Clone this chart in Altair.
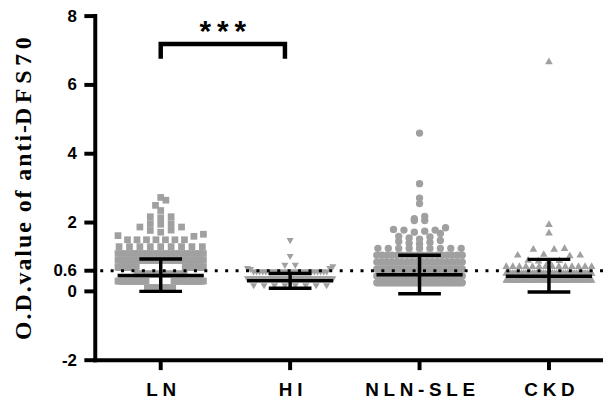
import json
import numpy as np
import pandas as pd
import altair as alt

# ---------------- data ----------------
groups = ["LN", "HI", "NLN-SLE", "CKD"]
SP = "\u2005"
tick_labels = [SP.join("LN"), SP.join("HI"), SP.join("NLN-SLE"), SP.join("CKD")]
shapes = ["square", "triangle-down", "circle", "triangle-up"]
sizes = [46, 60, 55, 60]

# isolated points (upper tails)
ln_tail = [2.73, 2.65, 2.50, 2.35, 2.17, 2.14, 2.17, 1.97, 1.97, 1.87, 1.87, 1.77, 1.72, 1.66, 1.62, 1.60,
           1.78, 1.95]
hi_tail = [1.46, 1.00, 0.74, 0.74, 0.70, 0.65, 0.65, 0.62]
nln_tail = [4.60, 3.13, 2.71, 2.55, 2.11, 2.06, 2.06, 2.18, 1.85, 1.78, 1.75, 1.68, 1.72, 1.78,
            1.80, 1.55, 1.48, 1.45, 1.58, 1.60, 1.40, 1.42, 1.52, 1.38]
ckd_tail = [6.70, 1.97, 1.72, 1.25, 1.27, 1.25, 1.08, 1.10, 1.08, 1.06, 0.91, 0.90, 0.93, 0.92]

# dense parts: row values and how many points sit in each row
ln_rows = [1.50, 1.30, 1.10, 0.90, 0.70, 0.50, 0.30, 0.10]
ln_counts = [7, 9, 22, 30, 40, 50, 45, 20]
hi_rows = [0.55, 0.35, 0.15]
hi_counts = [25, 30, 8]
nln_rows = [1.25, 1.05, 0.85, 0.65, 0.45, 0.25]
nln_counts = [9, 18, 24, 32, 45, 40]
ckd_rows = [0.75, 0.55, 0.35]
ckd_counts = [14, 40, 50]

# mean and SD bars
means = [0.46, 0.31, 0.48, 0.44]
sd_low = [0.00, 0.09, -0.07, -0.02]
sd_high = [0.94, 0.52, 1.05, 0.93]

# significance bracket
bracket_from = 0
bracket_to = 0.96
bracket_top = 7.19
bracket_bottom = 6.76
stars = "*\u2009*\u2009*"

y_ticks = [-2, 0, 0.6, 2, 4, 6, 8]
x_ticks = [0, 1, 2, 3]
cutoff = 0.6
y_title = "\u200a".join("O.D.value of anti-") + "\u2009".join("DFS70")

# ---------------- layout (beeswarm) ----------------
ROW_H = 0.2
STEP = 10.5 / 130.5
HALF = 0.33


def swarm(values, gi):
    rows = {}
    for v in sorted(values):
        rows.setdefault(int(np.floor(v / ROW_H + 0.5)), []).append(v)
    out = []
    for vs in rows.values():
        n = len(vs)
        step = min(STEP, 2 * HALF / max(n - 1, 1))
        offs = [(k - (n - 1) / 2) * step for k in range(n)]
        offs = sorted(offs, key=lambda o: (abs(o), o))
        for v, o in zip(vs, offs):
            out.append((gi + o, v))
    return out


all_sets = [
    (ln_tail, ln_rows, ln_counts),
    (hi_tail, hi_rows, hi_counts),
    (nln_tail, nln_rows, nln_counts),
    (ckd_tail, ckd_rows, ckd_counts),
]
recs = []
for gi, (tail, rows, counts) in enumerate(all_sets):
    vals = list(tail)
    for r, c in zip(rows, counts):
        vals += [r] * c
    for x, y in swarm(vals, gi):
        recs.append({"x": x, "y": y, "group": groups[gi]})
pts = pd.DataFrame(recs)

bars = pd.DataFrame({
    "gi": list(range(len(groups))),
    "mean": means, "lo": sd_low, "hi": sd_high,
})
bars["m1"] = bars["gi"] - 0.333
bars["m2"] = bars["gi"] + 0.333
bars["c1"] = bars["gi"] - 0.165
bars["c2"] = bars["gi"] + 0.165

bracket = pd.DataFrame({
    "x": [bracket_from, bracket_from, bracket_to, bracket_to],
    "y": [bracket_bottom, bracket_top, bracket_top, bracket_bottom],
    "o": [0, 1, 2, 3],
})

# ---------------- chart ----------------
W, H = 512, 347
xscale = alt.Scale(domain=[-0.5057, 3.4176], nice=False, zero=False)
yscale = alt.Scale(domain=[-2, 8], nice=False, zero=False)
label_expr = json.dumps(tick_labels) + "[datum.value]"

common = dict(domain=False, ticks=False, labelFont="Liberation Sans", labelFontWeight="bold",
              labelColor="#000000", grid=False)

xax = alt.Axis(values=x_ticks, labelExpr=label_expr, title=None,
               labelFontSize=19, labelPadding=21, labelBaseline="top", **common)
yax = alt.Axis(values=y_ticks, labelExpr="datum.value + ''", labelOverlap=False,
               title=y_title, titleColor="#000000",
               titleFont="Liberation Serif", titleFontSize=24, titleFontWeight="bold",
               titleAngle=270, titleX=-72, titleY=H / 2, titleAlign="center",
               titleBaseline="middle", labelFontSize=17, labelPadding=19, **common)


def X(f):
    return alt.X(f, scale=xscale, axis=xax)


def Y(f):
    return alt.Y(f, scale=yscale, axis=yax)


gray = "#a0a0a0"

points = alt.Chart(pts).mark_point(filled=True, opacity=1, color=gray, strokeWidth=0).encode(
    x=X("x:Q"),
    y=Y("y:Q"),
    shape=alt.Shape("group:N", scale=alt.Scale(domain=groups, range=shapes), legend=None),
    size=alt.Size("group:N", scale=alt.Scale(domain=groups, range=sizes), legend=None),
)

cut = alt.Chart(pd.DataFrame({"c": [cutoff]})).mark_rule(
    color="black", strokeWidth=3, strokeDash=[3, 7.5]
).encode(y=Y("c:Q"))

bw = 3.5
mean_rule = alt.Chart(bars).mark_rule(color="black", strokeWidth=bw).encode(
    x=X("m1:Q"), x2="m2", y=Y("mean:Q"))
hi_rule = alt.Chart(bars).mark_rule(color="black", strokeWidth=bw).encode(
    x=X("c1:Q"), x2="c2", y=Y("hi:Q"))
lo_rule = alt.Chart(bars).mark_rule(color="black", strokeWidth=bw).encode(
    x=X("c1:Q"), x2="c2", y=Y("lo:Q"))
v_rule = alt.Chart(bars).mark_rule(color="black", strokeWidth=bw).encode(
    x=X("gi:Q"), y=Y("lo:Q"), y2="hi")

br = alt.Chart(bracket).mark_line(color="black", strokeWidth=4.5, strokeJoin="miter").encode(
    x=X("x:Q"), y=Y("y:Q"), order="o:Q")

star_df = pd.DataFrame({"x": [(bracket_from + bracket_to) / 2], "y": [7.28], "t": [stars]})
star = alt.Chart(star_df).mark_text(
    fontSize=30, fontWeight="bold", font="Liberation Sans", baseline="alphabetic", align="center",
    color="black"
).encode(x=X("x:Q"), y=Y("y:Q"), text="t:N")

# axis lines and ticks drawn in black
ax_w = 4
y_dom = alt.Chart(pd.DataFrame({"a": [0]})).mark_rule(color="black", strokeWidth=ax_w, strokeCap="square").encode(
    x=alt.value(0), y=alt.value(0), y2=alt.value(H))
x_dom = alt.Chart(pd.DataFrame({"a": [0]})).mark_rule(color="black", strokeWidth=ax_w, strokeCap="square").encode(
    x=alt.value(0), x2=alt.value(W), y=alt.value(H))
y_tk = alt.Chart(pd.DataFrame({"v": y_ticks})).mark_rule(color="black", strokeWidth=ax_w).encode(
    y=Y("v:Q"), x=alt.value(-11), x2=alt.value(0))
x_tk = alt.Chart(pd.DataFrame({"v": x_ticks})).mark_rule(color="black", strokeWidth=ax_w).encode(
    x=X("v:Q"), y=alt.value(H), y2=alt.value(H + 10))

chart = alt.layer(points, cut, mean_rule, hi_rule, lo_rule, v_rule, br, star,
                  y_dom, x_dom, y_tk, x_tk).properties(
    width=W, height=H,
    autosize=alt.AutoSizeParams(type="none"),
    padding={"left": 88, "top": 6.5, "right": 0, "bottom": 40},
).configure_view(stroke=None)

chart.save("out.html", embed_options={"renderer": "svg", "actions": False})
